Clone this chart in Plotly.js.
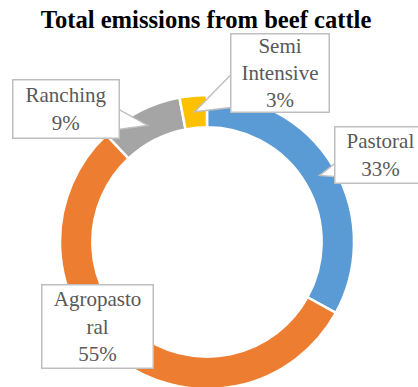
<!DOCTYPE html>
<html>
<head>
<meta charset="utf-8">
<script src="https://cdn.plot.ly/plotly-3.0.1.min.js"></script>
<style>
  html, body { margin: 0; padding: 0; overflow: hidden; background: #fff; }
  #chart { width: 418px; height: 391px; }
</style>
</head>
<body>
<div id="chart"></div>
<script>
// ---- data ----
const categories = ["Pastoral", "Agropastoral", "Ranching", "Semi Intensive"];
const displayLabels = ["Pastoral", "Agropasto<br>ral", "Ranching", "Semi<br>Intensive"];
const shares = [33, 55, 9, 3];
const colors = ["#5B9BD5", "#ED7D31", "#A5A5A5", "#FFC000"];
const chartTitle = "Total emissions from beef cattle";

// ---- layout constants ----
const FONT = "Liberation Serif";
const W = 418, H = 391;
const M = { l: 0, r: 4, t: 95, b: 2 };
const pw = W - M.l - M.r, ph = H - M.t - M.b;
const cx = M.l + pw / 2, cy = M.t + ph / 2, R = Math.min(pw, ph) / 2;
const hole = 0.78;
const rMid = R * (1 + hole) / 2;
const total = shares.reduce((a, b) => a + b, 0);
const BORDER = "#BFBFBF";

// callout box placement (centre px, size px) and pointer base (side + span fractions)
const boxes = [
  { cx: 380, cy: 154.5, w: 92, h: 57, side: "left", span: [0.63, 0.89] },
  { cx: 97,  cy: 326,   w: 112, h: 84, side: null },
  { cx: 65.5, cy: 108.5, w: 107, h: 59, side: "right", span: [0.49, 0.86] },
  { cx: 279.5, cy: 72.5, w: 99, h: 79, side: "left", span: [0.5, 0.94] }
];

function toPaper(px, py) {
  return { x: (px - M.l) / pw, y: (M.t + ph - py) / ph };
}

const annotations = [];
const shapes = [];
let cum = 0;
shares.forEach((v, i) => {
  const midFrac = (cum + v / 2) / total;
  cum += v;
  const ang = midFrac * 2 * Math.PI;
  const tx = cx + rMid * Math.sin(ang);
  const ty = cy - rMid * Math.cos(ang);
  const b = boxes[i];
  const c = toPaper(b.cx, b.cy);
  annotations.push({
    text: displayLabels[i] + "<br>" + v + "%",
    xref: "paper", yref: "paper",
    x: c.x, y: c.y, xanchor: "center", yanchor: "middle",
    showarrow: false,
    width: b.w - 2, height: b.h - 2,
    align: "center", valign: "middle",
    bgcolor: "#FFFFFF",
    bordercolor: BORDER, borderwidth: 1.5, borderpad: 0,
    font: { family: FONT, size: 21, color: "#595959" }
  });
  if (b.side) {
    const top = b.cy - b.h / 2;
    const ex = b.side === "left" ? b.cx - b.w / 2 + 3 : b.cx + b.w / 2 - 3;
    const p0 = toPaper(tx, ty);
    const p1 = toPaper(ex, top + b.span[0] * b.h);
    const p2 = toPaper(ex, top + b.span[1] * b.h);
    shapes.push({
      type: "path", xref: "paper", yref: "paper", layer: "above",
      path: `M ${p0.x} ${p0.y} L ${p1.x} ${p1.y} L ${p2.x} ${p2.y} Z`,
      fillcolor: "#FFFFFF", line: { color: BORDER, width: 1.5 }
    });
  }
});

const trace = {
  type: "pie",
  labels: categories,
  values: shares,
  sort: false,
  direction: "clockwise",
  rotation: 0,
  hole: hole,
  textinfo: "none",
  hoverinfo: "label+percent",
  marker: { colors: colors, line: { color: "#FFFFFF", width: 2.5 } },
  showlegend: false
};

const layout = {
  width: W, height: H,
  margin: M,
  paper_bgcolor: "#FFFFFF",
  plot_bgcolor: "#FFFFFF",
  font: { family: FONT },
  title: {
    text: "<b>" + chartTitle + "</b>",
    x: 0.493, xanchor: "center",
    y: 1 - 19.5 / H, yref: "container", yanchor: "middle",
    font: { family: FONT, size: 24.6, color: "#000000" }
  },
  shapes: shapes,
  annotations: annotations,
  showlegend: false
};

Plotly.newPlot("chart", [trace], layout, { displayModeBar: false, staticPlot: true });
</script>
</body>
</html>
